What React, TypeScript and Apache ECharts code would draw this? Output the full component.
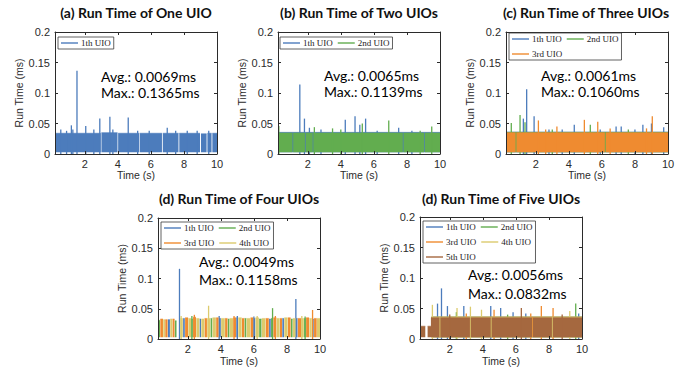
import React, { useEffect, useRef } from "react";
import * as echarts from "echarts";

type Seg = [number, number, number]; // [start time, end time, band top]
type Pt = [number, number]; // [time, spike value]

const TIME_TICKS = [2, 4, 6, 8, 10];
const UIO_NAMES = ["1th UIO", "2nd UIO", "3rd UIO", "4th UIO", "5th UIO"];
const UIO_COLORS = ["#4c7cbc", "#62ad4f", "#ef8b30", "#dccb6e", "#a5683f"];
const PANEL_TITLES = [
  "(a) Run Time of One UIO",
  "(b) Run Time of Two UIOs",
  "(c) Run Time of Three UIOs",
  "(d) Run Time of Four UIOs",
  "(d) Run Time of Five UIOs",
];
const AVG_LABELS = ["Avg.: 0.0069ms", "Avg.: 0.0065ms", "Avg.: 0.0061ms", "Avg.: 0.0049ms", "Avg.: 0.0056ms"];
const MAX_LABELS = ["Max.: 0.1365ms", "Max.: 0.1139ms", "Max.: 0.1060ms", "Max.: 0.1158ms", "Max.: 0.0832ms"];
const BAND_FLOOR = 0.003;

// (a) one UIO
const A_BANDS: Seg[][] = [
  [[0.2, 0.87, 0.034], [0.92, 2.97, 0.034], [3.01, 3.98, 0.035], [4.02, 5.28, 0.034], [5.32, 6.67, 0.034], [6.72, 7.67, 0.034], [7.72, 8.97, 0.034], [9.03, 9.37, 0.033], [9.42, 9.67, 0.034], [9.72, 10, 0.034]],
];
const A_SPIKES: Pt[][] = [
  [[0.55, 0.04], [0.9, 0.038], [1.19, 0.047], [1.28, 0.04], [1.53, 0.1365], [2.06, 0.046], [2.55, 0.04], [2.91, 0.058], [3.52, 0.061], [3.7, 0.04], [4.63, 0.06], [5.2, 0.038], [5.9, 0.038], [6.99, 0.043], [7.5, 0.038], [8.2, 0.038], [8.8, 0.038], [9.5, 0.038]],
];

// (b) two UIOs
const B_BANDS: Seg[][] = [
  [[0.2, 10, 0.0355]],
  [[0.2, 1.08, 0.0345], [1.12, 1.83, 0.0345], [1.87, 2.3, 0.0345], [2.34, 7.75, 0.0345], [7.79, 9.05, 0.0345], [9.09, 10, 0.0345]],
];
const B_SPIKES: Pt[][] = [
  [[1.52, 0.114], [1.8, 0.058], [2.1, 0.043], [2.8, 0.04], [4.27, 0.056], [4.86, 0.062], [5.15, 0.048], [5.5, 0.058], [6.2, 0.038], [7.5, 0.043], [8.3, 0.038]],
  [[0.25, 0.046], [2.4, 0.044], [3.5, 0.042], [4.0, 0.04], [5.3, 0.05], [6.9, 0.055], [8.8, 0.038], [9.5, 0.045]],
];

// (c) three UIOs
const C_BANDS: Seg[][] = [
  [[0.2, 10, 0.036]],
  [[0.2, 10, 0.0355]],
  [[0.2, 0.78, 0.035], [0.83, 6.18, 0.035], [6.23, 10, 0.035]],
];
const C_SPIKES: Pt[][] = [
  [[1.25, 0.058], [1.45, 0.106], [1.9, 0.062], [2.8, 0.04], [3.6, 0.04], [4.33, 0.048], [5.9, 0.04], [6.86, 0.045], [7.17, 0.045], [8.0, 0.04], [8.48, 0.048], [9.0, 0.05], [9.74, 0.044]],
  [[0.52, 0.051], [1.05, 0.064], [1.35, 0.052], [3.0, 0.04], [5.3, 0.048], [7.6, 0.04]],
  [[2.16, 0.055], [2.6, 0.04], [3.28, 0.045], [4.94, 0.056], [5.75, 0.053], [6.5, 0.042], [8.7, 0.042], [9.05, 0.062]],
];

// (d) four UIOs
const D_BANDS: Seg[][] = [
  [[0.8, 0.92, 0.032], [1.72, 1.82, 0.034], [2.72, 2.8, 0.033], [3.88, 4.0, 0.034], [4.94, 5.04, 0.035], [5.98, 6.08, 0.034], [6.92, 7.02, 0.033], [7.72, 7.82, 0.034], [8.54, 8.64, 0.034], [9.52, 9.62, 0.033]],
  [[0.2, 0.32, 0.031], [1.22, 1.32, 0.03], [2.22, 2.3, 0.033], [3.38, 3.48, 0.034], [4.42, 4.52, 0.033], [5.44, 5.54, 0.034], [6.32, 6.46, 0.033], [7.04, 7.16, 0.034], [8.24, 8.34, 0.033], [9.04, 9.14, 0.034]],
  [[0.34, 0.5, 0.033], [0.64, 0.78, 0.032], [1.08, 1.2, 0.033], [1.84, 2.02, 0.035], [2.32, 2.5, 0.036], [3.02, 3.16, 0.034], [3.72, 3.86, 0.035], [4.26, 4.4, 0.034], [4.76, 4.92, 0.035], [5.28, 5.42, 0.034], [5.8, 5.96, 0.035], [6.72, 6.9, 0.034], [7.18, 7.36, 0.035], [7.58, 7.7, 0.034], [8.06, 8.22, 0.035], [8.66, 8.86, 0.034], [9.16, 9.34, 0.035], [9.64, 9.8, 0.034]],
  [[0.52, 0.62, 0.032], [0.94, 1.06, 0.033], [1.55, 1.7, 0.034], [2.04, 2.2, 0.034], [2.52, 2.7, 0.034], [2.82, 3.0, 0.033], [3.18, 3.36, 0.034], [3.5, 3.7, 0.035], [4.02, 4.24, 0.034], [4.54, 4.74, 0.034], [5.06, 5.26, 0.035], [5.56, 5.78, 0.034], [6.1, 6.3, 0.035], [6.48, 6.7, 0.034], [7.38, 7.56, 0.034], [7.84, 8.04, 0.035], [8.36, 8.52, 0.034], [8.88, 9.02, 0.034], [9.36, 9.5, 0.034], [9.82, 10, 0.034]],
];
const D_SPIKES: Pt[][] = [
  [[1.5, 0.116], [3.9, 0.038], [5.0, 0.038], [6.0, 0.037], [8.54, 0.066]],
  [[2.25, 0.038], [7.13, 0.051], [9.1, 0.037]],
  [[2.4, 0.04], [4.8, 0.038], [7.3, 0.038], [9.55, 0.048]],
  [[1.6, 0.038], [3.26, 0.055], [6.2, 0.038], [8.9, 0.038]],
];

// (e) five UIOs
const E_BANDS: Seg[][] = [
  [[0.9, 10, 0.036]],
  [[0.9, 10, 0.036]],
  [[0.9, 10, 0.036]],
  [[0.9, 6.98, 0.036], [7.03, 10, 0.036]],
  [[0.2, 0.52, 0.021], [0.66, 0.86, 0.021], [0.86, 1.38, 0.035], [1.43, 3.22, 0.035], [3.27, 4.48, 0.035], [4.53, 6.98, 0.035], [7.03, 8.18, 0.035], [8.23, 10, 0.035]],
];
const E_SPIKES: Pt[][] = [
  [[1.26, 0.058], [1.5, 0.083], [1.86, 0.054], [2.85, 0.054], [4.48, 0.054], [5.08, 0.051], [5.83, 0.044], [6.6, 0.042], [9.8, 0.042]],
  [[2.4, 0.044], [5.5, 0.04], [9.62, 0.058]],
  [[3.0, 0.042], [4.68, 0.048], [6.9, 0.042], [7.54, 0.054], [8.25, 0.051]],
  [[0.95, 0.056], [2.44, 0.051], [3.25, 0.053], [3.92, 0.048], [9.26, 0.046]],
  [[2.0, 0.04], [6.33, 0.051], [8.8, 0.04]],
];

const PANEL_BANDS = [A_BANDS, B_BANDS, C_BANDS, D_BANDS, E_BANDS];
const PANEL_SPIKES = [A_SPIKES, B_SPIKES, C_SPIKES, D_SPIKES, E_SPIKES];

// layout (pixels)
const GRIDS = [
  { left: 55, top: 32, width: 162, height: 122 },
  { left: 278, top: 32, width: 162, height: 122 },
  { left: 506, top: 32, width: 162, height: 122 },
  { left: 158, top: 218, width: 162, height: 121 },
  { left: 420, top: 217, width: 162, height: 122 },
];
const TITLE_POS = [[136, 12], [359, 12], [586, 12], [239, 198], [501, 198]];
const NOTE_POS = [[101, 76, 92], [324, 75, 91], [541, 75, 91], [199, 261, 279], [468, 274, 293]];
const LEGEND_POS = [
  { left: 58, top: 37, width: 120 },
  { left: 280, top: 37, width: 130 },
  { left: 509, top: 33, width: 112 },
  { left: 161, top: 222, width: 112 },
  { left: 423, top: 221, width: 112 },
];

const AXIS_COLOR = "#2b2b2b";
const SANS = "Liberation Sans";

function bandData(segs: Seg[]) {
  const out: any[] = [];
  segs.forEach(([s, e, h]) => {
    out.push([s, h], [e, h], [e, null]);
  });
  return out;
}

function buildOption() {
  const grid: any[] = [];
  const xAxis: any[] = [];
  const yAxis: any[] = [];
  const series: any[] = [];
  const legend: any[] = [];
  const graphic: any[] = [];

  GRIDS.forEach((g, i) => {
    grid.push({ ...g, containLabel: false });
    const nameGap = i < 3 ? 15 : 16;
    xAxis.push({
      type: "value", gridIndex: i, position: "bottom", min: 0.2, max: 10, z: 20,
      name: "Time (s)", nameLocation: "middle", nameGap,
      nameTextStyle: { fontFamily: SANS, fontSize: 10.5, color: AXIS_COLOR },
      axisLine: { show: true, onZero: false, lineStyle: { color: AXIS_COLOR, width: 1 } },
      axisTick: { show: true, inside: true, length: 3, customValues: TIME_TICKS, lineStyle: { color: AXIS_COLOR } },
      axisLabel: { show: true, margin: 4, customValues: TIME_TICKS, fontFamily: SANS, fontSize: 11, color: AXIS_COLOR },
      splitLine: { show: false },
    });
    xAxis.push({
      type: "value", gridIndex: i, position: "top", min: 0.2, max: 10, z: 20,
      axisLine: { show: true, onZero: false, lineStyle: { color: AXIS_COLOR, width: 1 } },
      axisTick: { show: true, inside: true, length: 3, customValues: TIME_TICKS, lineStyle: { color: AXIS_COLOR } },
      axisLabel: { show: false },
      splitLine: { show: false },
    });
    yAxis.push({
      type: "value", gridIndex: i, position: "left", min: 0, max: 0.2, interval: 0.05, z: 20,
      name: "Run Time (ms)", nameLocation: "middle", nameGap: 26,
      nameTextStyle: { fontFamily: SANS, fontSize: 10.5, color: AXIS_COLOR },
      axisLine: { show: true, onZero: false, lineStyle: { color: AXIS_COLOR, width: 1 } },
      axisTick: { show: true, inside: true, length: 3, lineStyle: { color: AXIS_COLOR } },
      axisLabel: {
        show: true, margin: 5, fontFamily: SANS, fontSize: 11, color: AXIS_COLOR,
        formatter: (v: number) => String(Number(v.toFixed(2))),
      },
      splitLine: { show: false },
    });
    yAxis.push({
      type: "value", gridIndex: i, position: "right", min: 0, max: 0.2, interval: 0.05, z: 20,
      axisLine: { show: true, onZero: false, lineStyle: { color: AXIS_COLOR, width: 1 } },
      axisTick: { show: true, inside: true, length: 3, lineStyle: { color: AXIS_COLOR } },
      axisLabel: { show: false },
      splitLine: { show: false },
    });

    const bands = PANEL_BANDS[i];
    const spikes = PANEL_SPIKES[i];
    bands.forEach((segs, k) => {
      const color = UIO_COLORS[k];
      series.push({
        type: "line", name: UIO_NAMES[k], xAxisIndex: 2 * i, yAxisIndex: 2 * i,
        data: bandData(segs), symbol: "none", showSymbol: false, connectNulls: false,
        lineStyle: { color, width: 0.6 }, itemStyle: { color },
        areaStyle: { color, opacity: 1, origin: BAND_FLOOR },
        z: 2 + 2 * k, silent: true,
      });
      series.push({
        type: "bar", name: UIO_NAMES[k], xAxisIndex: 2 * i, yAxisIndex: 2 * i,
        data: spikes[k], barWidth: 1.3, barGap: "-100%",
        itemStyle: { color }, z: 3 + 2 * k, silent: true,
      });
    });

    const lp = LEGEND_POS[i];
    legend.push({
      left: lp.left, top: lp.top, width: lp.width, orient: "horizontal",
      data: UIO_NAMES.slice(0, bands.length).map((n) => ({ name: n, icon: "rect" })),
      itemWidth: 17, itemHeight: 1.4, itemGap: 5,
      padding: [1, 3, 1, 3], borderColor: "#3a3a3a", borderWidth: 0.8, backgroundColor: "#fff",
      selectedMode: false, z: 50,
      textStyle: { fontFamily: "Liberation Serif", fontSize: 9, color: "#222", lineHeight: 10, padding: [0, 0, 0, -2] },
    });

    const [tx, ty] = TITLE_POS[i];
    graphic.push({
      type: "text", x: tx, y: ty, z: 60,
      style: { text: PANEL_TITLES[i], font: "bold 14px Lato", fill: "#111", align: "center", verticalAlign: "middle" },
    });
    const [nx, ny1, ny2] = NOTE_POS[i];
    graphic.push({
      type: "text", x: nx, y: ny1, z: 60,
      style: { text: AVG_LABELS[i], font: "14px Lato", fill: "#000", align: "left", verticalAlign: "middle" },
    });
    graphic.push({
      type: "text", x: nx, y: ny2, z: 60,
      style: { text: MAX_LABELS[i], font: "14px Lato", fill: "#000", align: "left", verticalAlign: "middle" },
    });
  });

  return { animation: false, backgroundColor: "#fff", grid, xAxis, yAxis, series, legend, graphic };
}

export default function App() {
  const ref = useRef<HTMLDivElement>(null);
  useEffect(() => {
    if (!ref.current) return;
    const chart = echarts.init(ref.current, undefined, { renderer: "svg" });
    chart.setOption(buildOption() as any);
    return () => chart.dispose();
  }, []);
  return <div ref={ref} style={{ width: 700, height: 371, position: "absolute", left: 0, top: 0 }} />;
}
